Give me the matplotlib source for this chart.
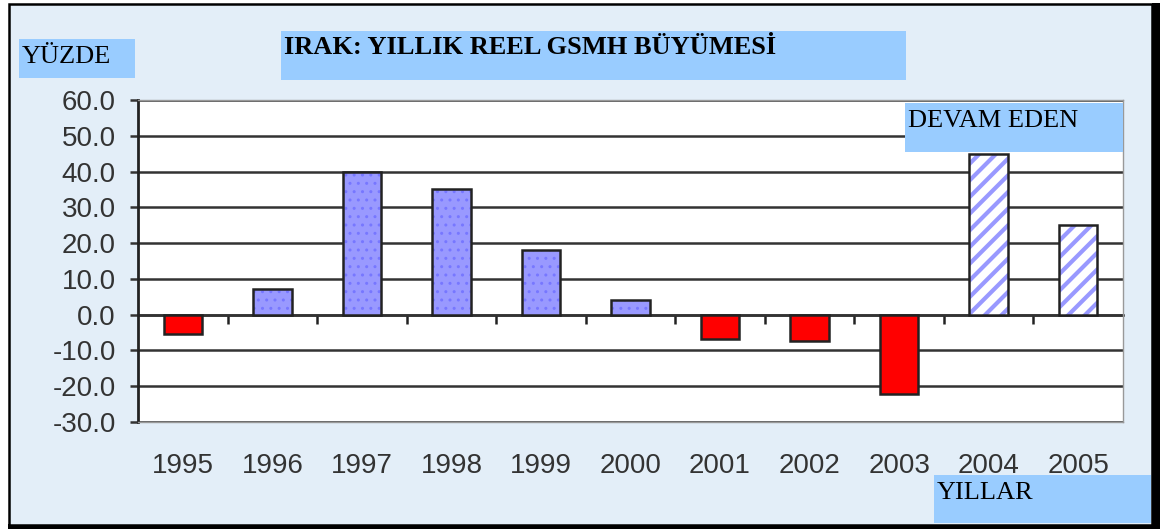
import matplotlib.pyplot as plt
import matplotlib.patches as patches

years = ['1995', '1996', '1997', '1998', '1999', '2000',
         '2001', '2002', '2003', '2004', '2005']
growth = [-5.3, 7.3, 40.0, 35.0, 18.0, 4.2, -6.7, -7.3, -22.3, 45.0, 25.0]
ongoing = [False] * 9 + [True, True]

W, H = 1170, 529
fig = plt.figure(figsize=(W / 100, H / 100), dpi=100)
fig.patch.set_facecolor('white')

# outer frame with light background and a heavy right/bottom edge
fig.patches.append(patches.Rectangle((1152 / W, 1 - 529 / H), 8 / W, 526 / H,
                                     transform=fig.transFigure, facecolor='black',
                                     edgecolor='none', zorder=-2))
fig.patches.append(patches.Rectangle((8 / W, 1 - 529 / H), 1152 / W, 5 / H,
                                     transform=fig.transFigure, facecolor='black',
                                     edgecolor='none', zorder=-2))
fig.patches.append(patches.Rectangle((9 / W, 1 - 525 / H), 1143 / W, 521 / H,
                                     transform=fig.transFigure, facecolor='#e3eef8',
                                     edgecolor='black', linewidth=1.8, zorder=-1))

ymin, ymax = -30, 60
ax = fig.add_axes([138 / W, 1 - 422 / H, 985 / W, 322 / H])
ax.set_facecolor('white')
ax.set_xlim(-0.5, len(years) - 0.5)
ax.set_ylim(ymin, ymax)

ax.set_yticks(range(ymin, ymax + 1, 10))
ax.set_yticklabels(['%.1f' % v for v in range(ymin, ymax + 1, 10)])
ax.yaxis.grid(True, color='#333333', linewidth=1.8)
ax.set_axisbelow(True)
ax.tick_params(axis='y', direction='out', length=6, width=1.8, color='#333333',
               labelsize=20, labelcolor='#333333', pad=10)

ax.set_xticks(range(len(years)))
ax.set_xticklabels(years)
ax.tick_params(axis='x', length=0, labelsize=20, labelcolor='#333333', pad=22)

for lbl in ax.get_xticklabels() + ax.get_yticklabels():
    lbl.set_family('Liberation Sans')

ax.spines['left'].set_color('#222222')
ax.spines['left'].set_linewidth(2)
for s in ['top', 'right', 'bottom']:
    ax.spines[s].set_color('#999999')
    ax.spines[s].set_linewidth(1)

for i, (v, o) in enumerate(zip(growth, ongoing)):
    if o:
        plt.rcParams['hatch.linewidth'] = 3.0
        ax.bar(i, v, width=0.43, facecolor='white', edgecolor='#9999ff', hatch='//',
               linewidth=0, zorder=3)
        ax.bar(i, v, width=0.43, facecolor='none', edgecolor='#222222', linewidth=1.8, zorder=4)
    elif v < 0:
        ax.bar(i, v, width=0.43, facecolor='#ff0000', edgecolor='#222222', linewidth=1.8, zorder=3)
    else:
        plt.rcParams['hatch.linewidth'] = 1.0
        ax.bar(i, v, width=0.43, facecolor='#9999ff', edgecolor='#7777ff', hatch='..',
               linewidth=0, zorder=3)
        ax.bar(i, v, width=0.43, facecolor='none', edgecolor='#222222', linewidth=1.8, zorder=4)

# category axis crossing at zero, with ticks between categories
zero_pos = (0 - ymin) / (ymax - ymin)
sec = ax.secondary_xaxis(zero_pos)
sec.set_xticks([i + 0.5 for i in range(len(years) - 1)])
sec.set_xticklabels([])
sec.tick_params(axis='x', direction='out', length=6.5, width=1.8, color='#222222')
sec.spines['bottom'].set_color('#222222')
sec.spines['bottom'].set_linewidth(1.8)

def label_box(x0, y0, x1, y1, text, bold=False, ty=None):
    fig.patches.append(patches.Rectangle((x0 / W, 1 - y1 / H), (x1 - x0) / W, (y1 - y0) / H,
                                         transform=fig.transFigure, facecolor='#99ccff',
                                         edgecolor='none', zorder=1))
    fig.text((x0 + 3) / W, 1 - ty / H, text, family='Liberation Serif', fontsize=19,
             fontweight='bold' if bold else 'normal', color='black', va='center', ha='left',
             zorder=2)

label_box(19, 39, 135, 78, 'YÜZDE', ty=57)
label_box(281, 31, 906, 80, 'IRAK: YILLIK REEL GSMH BÜYÜMESİ', bold=True, ty=48)
label_box(905, 103, 1123, 152, 'DEVAM EDEN', ty=121)
label_box(934, 475, 1151, 523, 'YILLAR', ty=493)

fig.savefig('out.png', dpi=100, facecolor=fig.get_facecolor())
